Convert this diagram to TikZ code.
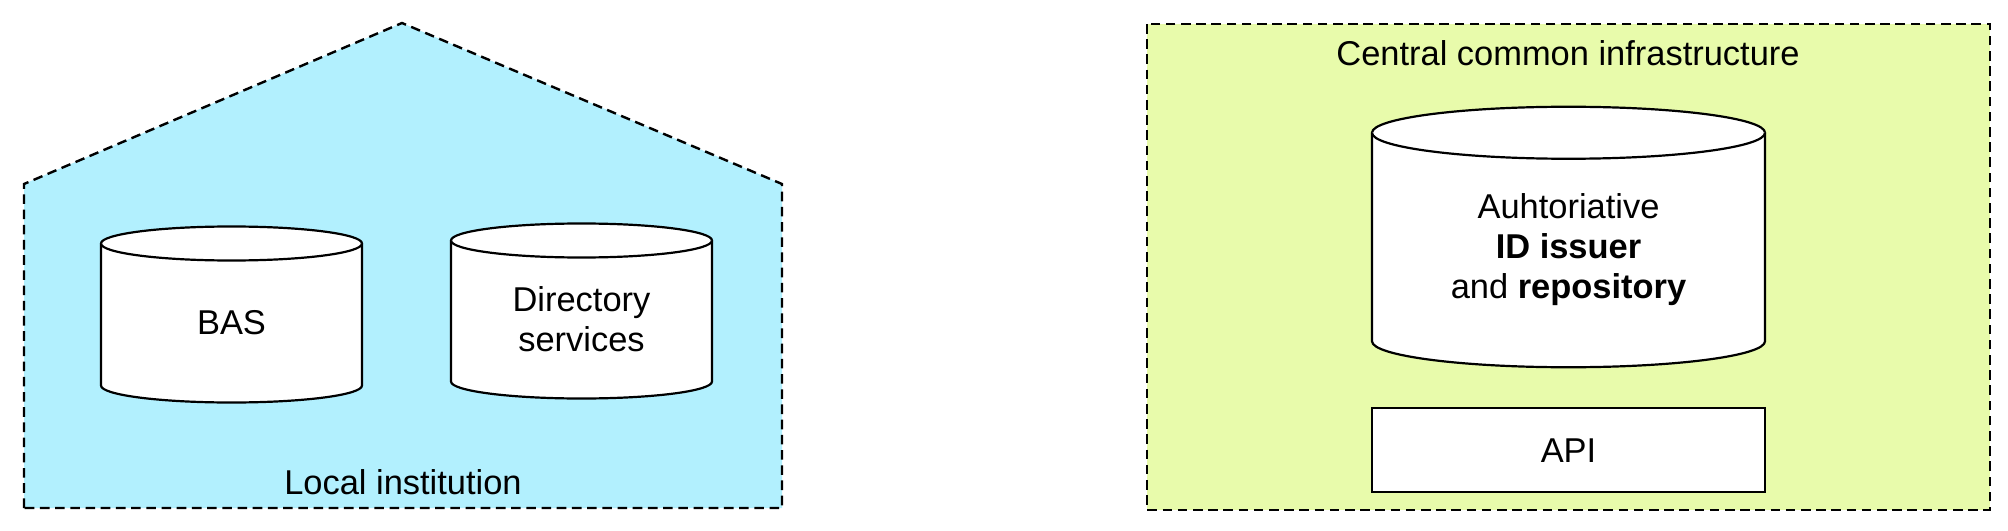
\documentclass[tikz,border=0pt]{standalone}
\usepackage{fontspec}
\setmainfont{Liberation Sans}
\usetikzlibrary{positioning}
\definecolor{localblue}{HTML}{B2F0FE}
\definecolor{centralgreen}{HTML}{E8FBAB}

\pgfdeclarelayer{zones}
\pgfdeclarelayer{shells}
\pgfsetlayers{zones,shells,main}

% cylinder outline behind a store node: node, half width, end radius
\newcommand\drawstore[3]{%
  \begin{pgfonlayer}{shells}
  \draw[shell] (#1.north west) -- ([yshift=#3]#1.south west)
      arc[start angle=180, end angle=360, x radius=#2, y radius=#3]
      -- (#1.north east)
      arc[start angle=0, end angle=180, x radius=#2, y radius=#3] -- cycle;
  \draw[shell] (#1.north west) arc[start angle=180, end angle=360, x radius=#2, y radius=#3];
  \end{pgfonlayer}}

\begin{document}
\begin{tikzpicture}[
    x=0.25mm, y=-0.25mm,
    node distance=10mm,
    every node/.style={font=\fontsize{24.5}{28.5}\selectfont},
    zone/.style={
        draw,
        dash pattern=on 2.4mm off 1.4mm,
        line width=0.6mm
    },
    shell/.style={
        draw,
        fill=white,
        line width=0.55mm
    },
    store/.style={
        rectangle,
        align=center,
        inner sep=0pt,
        outer sep=0pt
    },
    apibox/.style={
        rectangle,
        draw,
        fill=white,
        line width=0.55mm,
        minimum width=98.25mm,
        minimum height=21mm
    }
]
\useasboundingbox (0,0) rectangle (2008,531);

% local side
\begin{pgfonlayer}{zones}
\draw[zone, fill=localblue] (24,508) -- (24,184) -- (402,23) -- (782,184) -- (782,508) -- cycle;
\end{pgfonlayer}
\node (local) at (403,482) {Local institution};
\node[store, minimum width=65.25mm, minimum height=39.75mm] (bas) at (231.5,323) {BAS};
\node[store, minimum width=65.25mm, minimum height=39.5mm] (directory) at (581.5,319.5) {Directory\\services};
\drawstore{bas}{32.625mm}{4.25mm}
\drawstore{directory}{32.625mm}{4.25mm}

% central side
\begin{pgfonlayer}{zones}
\draw[zone, fill=centralgreen] (1147,24) rectangle (1990,510);
\end{pgfonlayer}
\node (central) at (1568,53) {Central common infrastructure};
\node[store, minimum width=98.25mm, minimum height=58.625mm] (issuer) at (1568.5,250)
    {Auhtoriative\\\textbf{ID issuer}\\and \textbf{repository}};
\drawstore{issuer}{49.125mm}{6.5mm}
\node[apibox, below=of issuer] (api) {API};

\end{tikzpicture}
\end{document}
